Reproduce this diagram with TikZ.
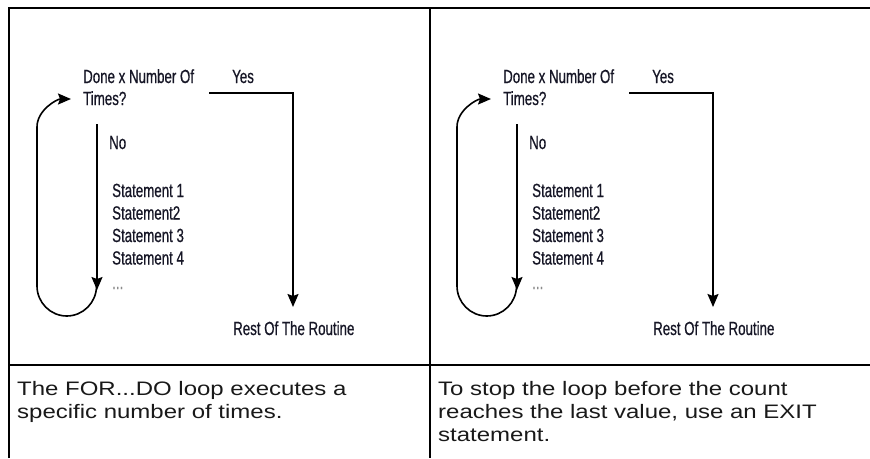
\documentclass[tikz,border=0pt]{standalone}
\usepackage{fontspec}
\setmainfont{Liberation Sans}
\newfontfamily\condfont[FakeStretch=0.7,FakeBold=0.6]{Liberation Sans}
\newfontfamily\capfont[FakeStretch=1.23]{Liberation Sans}
\usetikzlibrary{arrows.meta}
\definecolor{ink}{RGB}{22,22,38}
\tikzset{
  lbl/.style={anchor=base west, inner sep=0pt, text=ink, font=\condfont\fontsize{19}{21}\selectfont},
  dots/.style={anchor=base west, inner sep=0pt, text=black!45, font=\condfont\fontsize{19}{21}\selectfont},
  flowline/.style={draw=black, line width=1.6pt},
  arr/.style={flowline, -{Stealth[length=13pt,width=11pt,inset=2pt]}},
  grid/.style={draw=black, line width=2pt},
  caption/.style={anchor=base west, inner sep=0pt, text=black!90, font=\capfont\fontsize{19.5}{23}\selectfont},
  flow/.pic={
    \node[lbl] (-q1) at (83,83) {Done x Number Of};
    \node[lbl] (-q2) at (83,105) {Times?};
    \node[lbl] (-yes) at (232,83) {Yes};
    \node[lbl] (-no) at (109,149) {No};
    \node[lbl] (-s1) at (112,197) {Statement 1};
    \node[lbl] (-s2) at (112,219.5) {Statement2};
    \node[lbl] (-s3) at (112,242) {Statement 3};
    \node[lbl] (-s4) at (112,264.5) {Statement 4};
    \node[dots] (-s5) at (112,289) {...};
    \node[lbl] (-rest) at (233,335) {Rest Of The Routine};
    \coordinate (-ys) at (209,93);
    \coordinate (-yc) at (293,93);
    \coordinate (-ye) at (293,307);
    \coordinate (-ns) at (97,124);
    \coordinate (-ne) at (97,290);
    \coordinate (-ls) at (96.5,286);
    \coordinate (-lb) at (66.75,316);
    \coordinate (-ll) at (37,286);
    \coordinate (-lt) at (37,127);
    \coordinate (-le) at (71,99);
    \draw[arr] (-ys) -- (-yc) -- (-ye);
    \draw[arr] (-ns) -- (-ne);
    \draw[arr] (-ls) .. controls +(0,16.4) and +(16.4,0) .. (-lb)
                     .. controls +(-16.4,0) and +(0,16.4) .. (-ll)
                     -- (-lt) .. controls +(0,-17) and +(-14,0) .. (-le);
  }
}
\begin{document}
\begin{tikzpicture}[x=1pt,y=-1pt]
\useasboundingbox (0,0) rectangle (870,458);
\fill[white] (0,0) rectangle (870,458);
% table rules
\coordinate (tl) at (9,7.5);
\coordinate (tr) at (870,7.5);
\coordinate (tm) at (430,7.5);
\coordinate (bl) at (9,458);
\coordinate (bm) at (430,458);
\coordinate (dl) at (9,364.5);
\coordinate (dr) at (870,364.5);
\draw[grid] (bl) -- (tl) -- (tr);
\draw[grid] (tm) -- (bm);
\draw[grid] (dl) -- (dr);
% diagrams
\pic (L) at (0,0) {flow};
\pic (R) at (420,0) {flow};
% captions
\node[caption] (capL1) at (17,395) {The FOR...DO loop executes a};
\node[caption] (capL2) at (17,418) {specific number of times.};
\node[caption] (capR1) at (438,395) {To stop the loop before the count};
\node[caption] (capR2) at (438,418) {reaches the last value, use an EXIT};
\node[caption] (capR3) at (438,441) {statement.};
\end{tikzpicture}
\end{document}
